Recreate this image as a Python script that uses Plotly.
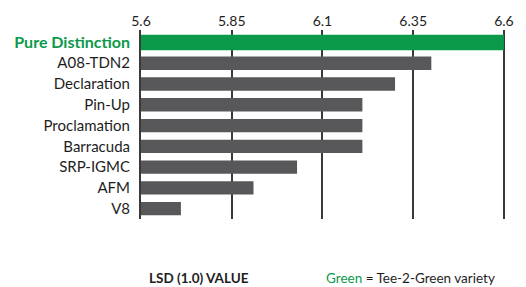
import plotly.graph_objects as go

varieties = ["Pure Distinction", "A08-TDN2", "Declaration", "Pin-Up", "Proclamation",
             "Barracuda", "SRP-IGMC", "AFM", "V8"]
lsd_values = [6.6, 6.40, 6.30, 6.21, 6.21, 6.21, 6.03, 5.91, 5.71]
tee2green = ["Pure Distinction"]
x_ticks = [5.6, 5.85, 6.1, 6.35, 6.6]
x_tick_labels = ["5.6", "5.85", "6.1", "6.35", "6.6"]

GREEN = "#0b9a4a"
GRAY = "#58585a"
LINE = "#3a3a3a"
FONT = "Lato"

fig = go.Figure()
g_y = [v for v in varieties if v in tee2green]
g_x = [x for v, x in zip(varieties, lsd_values) if v in tee2green]
o_y = [v for v in varieties if v not in tee2green]
o_x = [x for v, x in zip(varieties, lsd_values) if v not in tee2green]

fig.add_trace(go.Bar(y=g_y, x=g_x, orientation="h", marker=dict(color=GREEN, line=dict(width=0)),
                     width=0.74, showlegend=False, hoverinfo="skip"))
fig.add_trace(go.Bar(y=o_y, x=o_x, orientation="h", marker=dict(color=GRAY, line=dict(width=0)),
                     width=0.64, showlegend=False, hoverinfo="skip"))

ticktext = []
for v in varieties:
    if v in tee2green:
        ticktext.append(f"<b><span style='color:{GREEN};font-size:16px'>{v}</span></b>")
    else:
        ticktext.append(v)

fig.update_layout(
    width=526, height=287,
    margin=dict(l=141, r=16, t=30, b=68),
    paper_bgcolor="white", plot_bgcolor="white",
    barmode="overlay",
    font=dict(family=FONT, size=15, color="#1e1e1e"),
    xaxis=dict(side="top", range=[5.6, 6.603], tickvals=x_ticks, ticktext=x_tick_labels,
               showgrid=True, gridcolor=LINE, gridwidth=1.5, zeroline=False,
               showline=False, ticks="", tickfont=dict(size=14, color="#1e1e1e"),
               fixedrange=True),
    yaxis=dict(categoryorder="array", categoryarray=varieties, range=[8.5, -0.6],
               tickvals=varieties, ticktext=ticktext, showgrid=False, zeroline=False,
               showline=True, linecolor=LINE, linewidth=2, ticks="",
               ticklabelstandoff=6, tickfont=dict(size=15, color="#1e1e1e"),
               fixedrange=True),
    annotations=[
        dict(text="<b>LSD (1.0) VALUE</b>", xref="paper", yref="paper", x=0.16, y=-0.31,
             xanchor="center", yanchor="middle", showarrow=False,
             font=dict(size=13.5, color="#1e1e1e", family=FONT)),
        dict(text=f"<span style='color:{GREEN}'>Green</span> = Tee-2-Green variety",
             xref="paper", yref="paper", x=0.978, y=-0.31, xanchor="right", yanchor="middle",
             showarrow=False, font=dict(size=13.5, color="#1e1e1e", family=FONT)),
    ],
)

fig.write_html("out.html", config={"displayModeBar": False},
               post_script="document.body.style.margin='0';")
